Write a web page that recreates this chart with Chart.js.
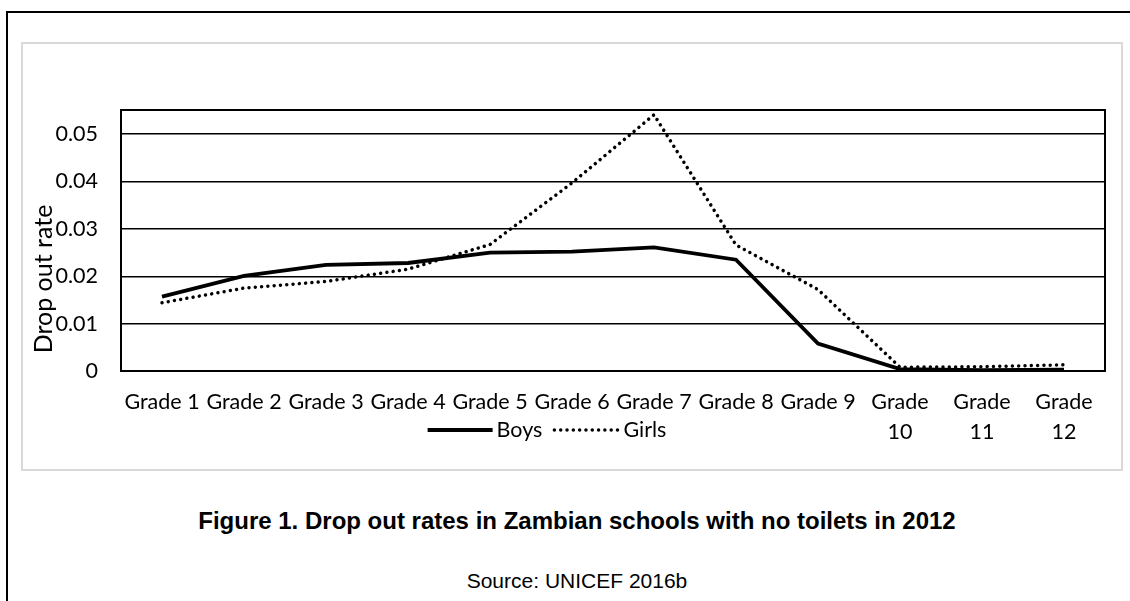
<!DOCTYPE html>
<html>
<head>
<meta charset="utf-8">
<script src="https://cdn.jsdelivr.net/npm/chart.js@4.4.1/dist/chart.umd.min.js"></script>
<style>
  html, body { margin: 0; padding: 0; background: #fff; width: 1130px; height: 601px; overflow: hidden; }
  #frame { position: absolute; left: 6px; top: 11px; width: 1200px; height: 700px; border: 2px solid #000; }
  #box { position: absolute; left: 21px; top: 42px; width: 1102px; height: 429px; box-sizing: border-box; border: 2px solid #d9d9d9; }
  #wrap { position: absolute; left: 23px; top: 44px; width: 1098px; height: 425px; }
  .cap { position: absolute; left: 0; width: 1154px; text-align: center; color: #000;
         font-family: "Liberation Sans", Arial, sans-serif; }
  #fig { top: 509px; font-size: 24px; line-height: 24px; font-weight: bold; }
  #src { top: 570px; font-size: 21px; line-height: 21px; }
</style>
</head>
<body>
<div id="frame"></div>
<div id="box"></div>
<div id="wrap"><canvas id="chart"></canvas></div>
<div class="cap" id="fig">Figure 1. Drop out rates in Zambian schools with no toilets in 2012</div>
<div class="cap" id="src">Source: UNICEF 2016b</div>
<script>
// data
const grades = ['Grade 1', 'Grade 2', 'Grade 3', 'Grade 4', 'Grade 5', 'Grade 6',
  'Grade 7', 'Grade 8', 'Grade 9', ['Grade', '10'], ['Grade', '11'], ['Grade', '12']];
const boys  = [0.0157, 0.0201, 0.0224, 0.0228, 0.0250, 0.0252, 0.0261, 0.0235, 0.0058, 0.0004, 0.0002, 0.0003];
const girls = [0.0144, 0.0175, 0.0189, 0.0215, 0.0267, 0.0397, 0.0541, 0.0266, 0.0172, 0.0008, 0.0009, 0.0013];
const yTicks = [0, 0.01, 0.02, 0.03, 0.04, 0.05];
const yMax = 0.0551;
const yTitle = 'Drop out rate';

const tickFont = { family: 'Lato', size: 21.5 };

// kotak plot, legend dan judul sumbu y digambar sendiri
const extras = {
  id: 'extras',
  beforeDatasetsDraw(chart) {
    const { ctx, chartArea: a } = chart;
    ctx.save();
    ctx.strokeStyle = '#000';
    ctx.lineWidth = 2;
    ctx.strokeRect(a.left, a.top, a.right - a.left, a.bottom - a.top);
    ctx.restore();
  },
  afterDraw(chart, args, opts) {
    const ctx = chart.ctx;
    ctx.save();
    ctx.fillStyle = '#000';
    ctx.font = '21.5px Lato';
    ctx.textBaseline = 'middle';

    // legend
    const items = chart.data.datasets.map(ds => ({ ds, w: ctx.measureText(ds.label).width }));
    const lineLen = 65, gapText = 4, gapItem = 12;
    let total = 0;
    items.forEach(it => total += lineLen + gapText + it.w);
    total += gapItem * (items.length - 1);
    let x = opts.legendX - total / 2;
    const y = opts.legendY;
    items.forEach(it => {
      ctx.beginPath();
      ctx.strokeStyle = '#000';
      ctx.lineWidth = it.ds.borderWidth;
      ctx.lineCap = it.ds.borderCapStyle || 'butt';
      ctx.setLineDash(it.ds.borderDash || []);
      ctx.moveTo(x, y);
      ctx.lineTo(x + lineLen, y);
      ctx.stroke();
      ctx.setLineDash([]);
      ctx.textAlign = 'left';
      ctx.fillText(it.ds.label, x + lineLen + gapText, y);
      x += lineLen + gapText + it.w + gapItem;
    });

    // judul sumbu y
    ctx.translate(opts.titleX, opts.titleY);
    ctx.rotate(-Math.PI / 2);
    ctx.textAlign = 'center';
    ctx.font = '25px Lato';
    ctx.fillText(yTitle, 0, 0);
    ctx.restore();
  }
};

new Chart(document.getElementById('chart'), {
  type: 'line',
  data: {
    labels: grades,
    datasets: [
      {
        label: 'Boys',
        data: boys,
        borderColor: '#000',
        borderWidth: 3.8,
        borderCapStyle: 'butt',
        pointRadius: 0,
        tension: 0
      },
      {
        label: 'Girls',
        data: girls,
        borderColor: '#000',
        borderWidth: 3.5,
        borderDash: [0.01, 6.3],
        borderCapStyle: 'round',
        pointRadius: 0,
        tension: 0
      }
    ]
  },
  options: {
    responsive: true,
    maintainAspectRatio: false,
    animation: false,
    layout: { padding: { top: 66, right: 16, left: 0, bottom: 0 } },
    scales: {
      x: {
        offset: true,
        grid: { display: false, drawTicks: false },
        border: { display: false },
        ticks: {
          color: '#000',
          font: { family: 'Lato', size: 21.5, lineHeight: 1.4 },
          padding: 16,
          maxRotation: 0,
          minRotation: 0,
          autoSkip: false
        },
        afterFit: s => { s.height = 98; }
      },
      y: {
        min: 0,
        max: yMax,
        afterBuildTicks: s => { s.ticks = yTicks.map(v => ({ value: v })); },
        grid: { color: '#000', lineWidth: 1.5, drawTicks: false },
        border: { display: false },
        ticks: {
          color: '#000',
          font: tickFont,
          padding: 23,
          callback: v => String(+v.toFixed(2))
        },
        afterFit: s => { s.width = 98; }
      }
    },
    plugins: {
      legend: { display: false },
      tooltip: { enabled: false },
      extras: { legendX: 524, legendY: 386, titleX: 21, titleY: 235 }
    }
  },
  plugins: [extras]
});
</script>
</body>
</html>
